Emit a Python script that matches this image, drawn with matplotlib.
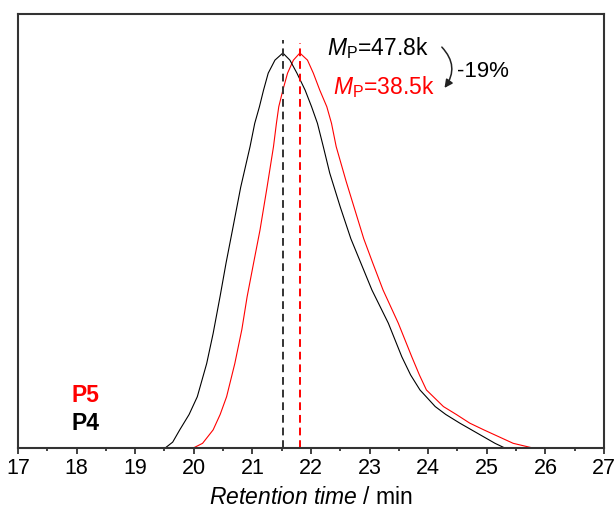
import matplotlib
matplotlib.use("Agg")
import matplotlib.pyplot as plt
from matplotlib.patches import FancyArrowPatch

plt.rcParams['font.family'] = ['Liberation Sans', 'DejaVu Sans']
plt.rcParams['mathtext.fontset'] = 'custom'
plt.rcParams['mathtext.rm'] = 'Liberation Sans'
plt.rcParams['mathtext.it'] = 'Liberation Sans:italic'

# P4 trace (black), retention time in min vs normalised signal
time_p4 = [19.51, 19.64, 19.76, 19.92, 20.06, 20.22, 20.33, 20.45, 20.55, 20.66,
           20.8, 20.96, 21.04, 21.12, 21.19, 21.27, 21.385, 21.52, 21.64, 21.76,
           21.9, 22.01, 22.11, 22.21, 22.32, 22.5, 22.68, 22.86, 23.04, 23.32,
           23.55, 23.7, 23.86, 24.12, 24.3, 24.54, 24.74, 24.94, 25.14, 25.31]
sig_p4 = [0, 0.015, 0.046, 0.085, 0.13, 0.214, 0.29, 0.385, 0.468, 0.552,
          0.66, 0.763, 0.822, 0.864, 0.906, 0.949, 0.982, 1.0, 0.982, 0.949,
          0.906, 0.864, 0.822, 0.763, 0.696, 0.61, 0.53, 0.465, 0.4, 0.316,
          0.231, 0.185, 0.147, 0.105, 0.085, 0.063, 0.046, 0.029, 0.012, 0]

# P5 trace (red)
time_p5 = [18.16, 19.99, 20.15, 20.33, 20.45, 20.56, 20.70, 20.82, 20.91, 21.02,
           21.13, 21.25, 21.36, 21.41, 21.45, 21.52, 21.60, 21.70, 21.81, 21.94,
           22.04, 22.15, 22.27, 22.35, 22.43, 22.6, 22.9, 23.05, 23.23, 23.49,
           23.72, 23.85, 23.97, 24.26, 24.48, 24.71, 24.95, 25.2, 25.45, 25.79]
sig_p5 = [0, 0, 0.012, 0.046, 0.085, 0.13, 0.214, 0.30, 0.383, 0.468,
          0.552, 0.66, 0.763, 0.822, 0.864, 0.906, 0.949, 0.982, 1.0, 0.982,
          0.949, 0.906, 0.864, 0.822, 0.763, 0.675, 0.53, 0.47, 0.4, 0.316,
          0.231, 0.185, 0.147, 0.105, 0.085, 0.063, 0.046, 0.029, 0.012, 0]

peak_p4 = 21.52
peak_p5 = 21.81
mp_p4 = "47.8k"
mp_p5 = "38.5k"
change = "-19%"

fig = plt.figure(figsize=(6.14, 5.15), dpi=100)
ax = fig.add_axes([0.0293, 0.130, 0.9544, 0.843])

ax.plot(time_p5, sig_p5, color='#ff0000', lw=0.8)
ax.plot(time_p4, sig_p4, color='#000000', lw=0.8)

ax.plot([peak_p4, peak_p4], [0, 1.033], color='#333333', lw=1.4, ls=(0, (4, 2.5)))
ax.plot([peak_p5, peak_p5], [0, 1.025], color='#ff0000', lw=1.4, ls=(0, (4, 2.5)))

ax.text(22.27, 0.995, r'$\mathit{M}_\mathrm{P}$=' + mp_p4, color='black', fontsize=16.5,
        va='baseline', ha='left')
ax.text(22.38, 0.896, r'$\mathit{M}_\mathrm{P}$=' + mp_p5, color='#ff0000', fontsize=16.5,
        va='baseline', ha='left')
ax.text(24.5, 0.954, change, color='black', fontsize=16, va='center', ha='left')

arrow = FancyArrowPatch((24.2, 1.02), (24.25, 0.906), connectionstyle='arc3,rad=-0.45',
                        arrowstyle='-|>', mutation_scale=12, color='#222222', lw=1.1)
ax.add_patch(arrow)

ax.text(17.92, 0.134, 'P5', color='#ff0000', fontsize=16.5, fontweight='bold', va='center')
ax.text(17.92, 0.063, 'P4', color='black', fontsize=16.5, fontweight='bold', va='center')

ax.set_xlim(17, 27)
ax.set_ylim(0, 1.099)
ax.set_xticks(range(17, 28))
ax.set_xticks([x + 0.5 for x in range(17, 27)], minor=True)
ax.set_yticks([])
ax.tick_params(axis='x', which='major', direction='out', length=4.5, width=1.3,
               labelsize=15.5, color='#333333', pad=3)
ax.tick_params(axis='x', which='minor', direction='out', length=2.5, width=1.3,
               color='#333333')
for s in ax.spines.values():
    s.set_linewidth(1.5)
    s.set_color('#333333')

ax.set_xlabel(r'$\mathit{Retention\ time}$ / min', fontsize=16.5, labelpad=5)

fig.savefig('out.png', dpi=100)
